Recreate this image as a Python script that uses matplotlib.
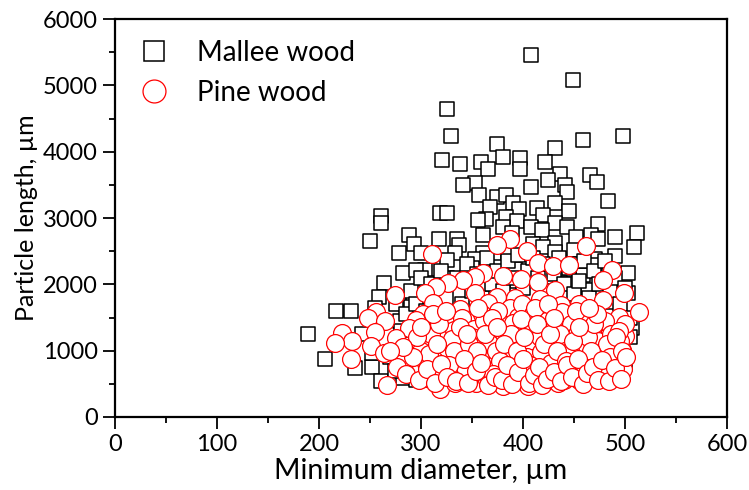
import matplotlib
matplotlib.use("Agg")
import matplotlib.pyplot as plt
from matplotlib.lines import Line2D
from matplotlib.ticker import MultipleLocator

plt.rcParams['font.family'] = ['Lato', 'DejaVu Sans']

# Mallee wood particles: (minimum diameter um, particle length um)
mallee_d = [
    408, 449, 326, 329, 498, 459, 375, 431, 321, 359, 380, 397, 397, 422, 338,
    366, 466, 436, 425, 473, 353, 341, 408, 441, 443, 357, 375, 383, 483, 390,
    431, 414, 445, 396, 368, 261, 261, 319, 326, 420, 383, 364, 356, 394, 431,
    474, 408, 380, 443, 419, 512, 288, 361, 389, 467, 490, 452, 250, 318, 335,
    293, 337, 410, 431, 474, 509, 420, 278, 300, 333, 361, 385, 431, 450, 490,
    471, 326, 353, 403, 471, 455, 375, 392, 304, 350, 441, 503, 282, 295, 459,
    326, 306, 264, 394, 436, 464, 497, 503, 259, 292, 314, 276, 488, 217, 231,
    255, 290, 279, 189, 242, 206, 235, 252, 261, 252, 282, 295, 507, 450, 335,
    280, 285, 290, 295, 300, 305, 310, 315, 320, 325, 330, 335, 340, 345, 350,
    355, 360, 365, 370, 375, 380, 385, 390, 395, 400, 405, 410, 415, 420, 425,
    430, 435, 440, 445, 450, 455, 460, 465, 470, 475, 480, 485, 490, 495, 500,
    505, 270, 275, 285, 290, 300, 310, 320, 330, 340, 350, 360, 370, 380, 390,
    400, 410, 420, 430, 440, 450, 460, 470, 480, 490, 500, 505,
]
mallee_len = [
    5464, 5088, 4637, 4231, 4231, 4170, 4110, 4060, 3880, 3850, 3920, 3910, 3745, 3850, 3810,
    3745, 3645, 3660, 3570, 3540, 3530, 3500, 3470, 3500, 3400, 3345, 3310, 3355, 3260, 3220,
    3220, 3150, 3110, 3130, 3160, 3030, 2930, 3070, 3070, 3050, 3010, 2980, 2970, 2960, 2920,
    2910, 2870, 2870, 2860, 2820, 2780, 2740, 2740, 2770, 2740, 2710, 2710, 2660, 2680, 2690,
    2610, 2590, 2610, 2620, 2680, 2560, 2570, 2480, 2470, 2480, 2470, 2470, 2490, 2520, 2430,
    2390, 2360, 2380, 2340, 2290, 2305, 2265, 2225, 2215, 2240, 2215, 2175, 2165, 2215, 2140,
    2090, 2025, 2025, 2055, 2015, 1915, 1925, 1865, 1815, 1825, 1855, 1705, 1740, 1605, 1605,
    1640, 1655, 1455, 1250, 1250, 880, 745, 760, 545, 960, 585, 560, 1340, 585, 560,
    1300, 1550, 1900, 1700, 2100, 1600, 2000, 1400, 2200, 1800, 1500, 2100, 1700, 2300, 1900,
    2150, 1800, 2400, 2000, 2200, 1900, 2350, 2100, 2450, 1950, 2200, 2400, 2100, 2300, 1900,
    2150, 2400, 2000, 2250, 1850, 2050, 2350, 1800, 2200, 2000, 2350, 1900, 2100, 1700, 1950,
    1500, 900, 700, 1100, 800, 650, 600, 900, 650, 580, 800, 600, 1000, 700, 1300,
    550, 850, 620, 1100, 700, 1200, 600, 900, 700, 1000, 800, 1200,
]

# Pine wood particles
pine_d = [
    387, 375, 462, 311, 404, 415, 429, 445, 487, 361, 353, 380, 398, 341, 327,
    415, 479, 315, 304, 275, 431, 499, 353, 375, 392, 417, 479, 455, 312, 366,
    437, 387, 338, 256, 514, 360, 302, 248, 395, 416, 494, 265, 295, 328, 373,
    441, 477, 460, 288, 416, 332, 497, 223, 255, 276, 361, 445, 500, 232, 216,
    380, 308, 341, 251, 469, 403, 483, 497, 287, 370, 431, 264, 326, 460, 231,
    313, 384, 434, 281, 352, 494, 464, 405, 277, 300, 338, 375, 487, 450, 422,
    305, 356, 468, 492, 391, 267, 319, 354, 380, 405, 420, 434, 333, 455,
    300, 310, 318, 322, 330, 335, 340, 345, 348, 352, 358, 362, 365, 368, 372,
    376, 380, 383, 386, 390, 393, 396, 399, 402, 405, 408, 410, 413, 417, 420,
    423, 426, 429, 432, 435, 438, 441, 444, 447, 450, 453, 456, 459, 462, 465,
    468, 471, 474, 477, 480, 483, 486, 489, 492, 495, 498, 500,
    305, 312, 325, 332, 343, 350, 356, 360, 370, 374, 378, 388, 392, 398, 404,
    412, 415, 418, 425, 428, 436, 440, 446, 452, 458, 464, 470, 476, 482, 488,
    494,
    296, 308, 316, 328, 338, 347, 355, 363, 371, 381, 387, 394, 401, 407, 414,
    421, 427, 433, 442, 449, 455, 461, 467, 473, 479, 485, 491, 497,
    285, 292, 298, 306, 314, 320, 326, 334, 342, 346, 354, 359, 366, 373, 379,
    384, 389, 395, 400, 406, 411, 416, 419, 424, 430, 437, 443, 448, 454, 459,
    463, 469, 474, 478, 484, 490, 496, 501, 345, 375, 430, 465, 300, 282, 270,
]
pine_len = [
    2677, 2590, 2576, 2456, 2506, 2316, 2280, 2290, 2215, 2165, 2105, 2125, 2075, 2065, 2015,
    2040, 2065, 1955, 1865, 1840, 1915, 1875, 1865, 1815, 1800, 1775, 1765, 1705, 1725, 1715,
    1690, 1640, 1625, 1590, 1580, 1555, 1555, 1490, 1515, 1590, 1515, 1440, 1465, 1425, 1390,
    1465, 1440, 1390, 1340, 1290, 1305, 1290, 1265, 1275, 1190, 1205, 1190, 1215, 1140, 1115,
    1180, 1115, 1115, 1065, 1090, 1055, 1025, 1015, 990, 1015, 1015, 965, 955, 990, 880,
    865, 865, 870, 810, 835, 835, 835, 785, 760, 735, 710, 710, 710, 710, 685,
    585, 610, 600, 635, 610, 485, 420, 510, 470, 460, 510, 510, 510, 560,
    1000, 1250, 1400, 700, 1180, 870, 1500, 1000, 640, 1330, 900, 1450, 560, 1100, 780,
    1600, 1280, 950, 580, 1420, 1150, 820, 1700, 1350, 650, 1050, 1550, 900, 1200, 740,
    1450, 1000, 600, 1320, 820, 1580, 1100, 680, 1400, 950, 1250, 760, 1550, 1050, 880,
    1300, 640, 1150, 950, 1450, 780, 1250, 1050, 900, 1150, 720, 1400,
    820, 1550, 1600, 1000, 760, 1200, 1650, 700, 1500, 1000, 850, 1250, 600, 1480, 900,
    1650, 560, 980, 1700, 820, 1250, 560, 1000, 1600, 640, 1200, 1400, 800, 1100, 600,
    1300,
    1200, 950, 1100, 780, 1350, 1100, 1000, 1250, 650, 1100, 720, 1000, 1200, 780, 1400,
    1100, 1250, 1000, 850, 1150, 1350, 750, 1000, 1550, 650, 900, 1200, 1000,
    650, 900, 560, 720, 520, 800, 600, 540, 880, 520, 700, 820, 480, 600, 560,
    780, 500, 680, 880, 520, 640, 760, 480, 580, 680, 540, 780, 600, 880, 500,
    660, 760, 560, 860, 540, 740, 580, 900, 1250, 1350, 1500, 1650, 1350, 1050, 1000,
]

fig = plt.figure(figsize=(7.49, 4.90), dpi=100)
ax = fig.add_axes([0.1535, 0.149, 0.817, 0.812])

ax.scatter(mallee_d, mallee_len, marker='s', s=95, facecolors='white',
           edgecolors='black', linewidths=1.1, zorder=2)
ax.scatter(pine_d, pine_len, marker='o', s=165, facecolors='white',
           edgecolors='red', linewidths=0.9, zorder=3)

ax.set_xlim(0, 600)
ax.set_ylim(0, 6000)
ax.xaxis.set_major_locator(MultipleLocator(100))
ax.xaxis.set_minor_locator(MultipleLocator(50))
ax.yaxis.set_major_locator(MultipleLocator(1000))
ax.yaxis.set_minor_locator(MultipleLocator(500))
ax.tick_params(which='major', direction='out', length=8.5, width=1.3,
               labelsize=17, pad=4)
ax.tick_params(which='minor', direction='out', length=4.5, width=1.3)
for sp in ax.spines.values():
    sp.set_linewidth(1.6)

ax.set_xlabel('Minimum diameter, µm', fontsize=20.5, labelpad=2)
ax.set_ylabel('Particle length, µm', fontsize=18, labelpad=3)

handles = [
    Line2D([], [], marker='s', linestyle='none', markersize=15,
           markerfacecolor='white', markeredgecolor='black', markeredgewidth=1.1),
    Line2D([], [], marker='o', linestyle='none', markersize=16.5,
           markerfacecolor='white', markeredgecolor='red', markeredgewidth=0.9),
]
ax.legend(handles, ['Mallee wood', 'Pine wood'], loc='upper left',
          frameon=False, fontsize=20, handletextpad=0.55, labelspacing=0.5,
          borderaxespad=0.0, bbox_to_anchor=(0.0, 0.975))

fig.savefig('out.png', dpi=100)
